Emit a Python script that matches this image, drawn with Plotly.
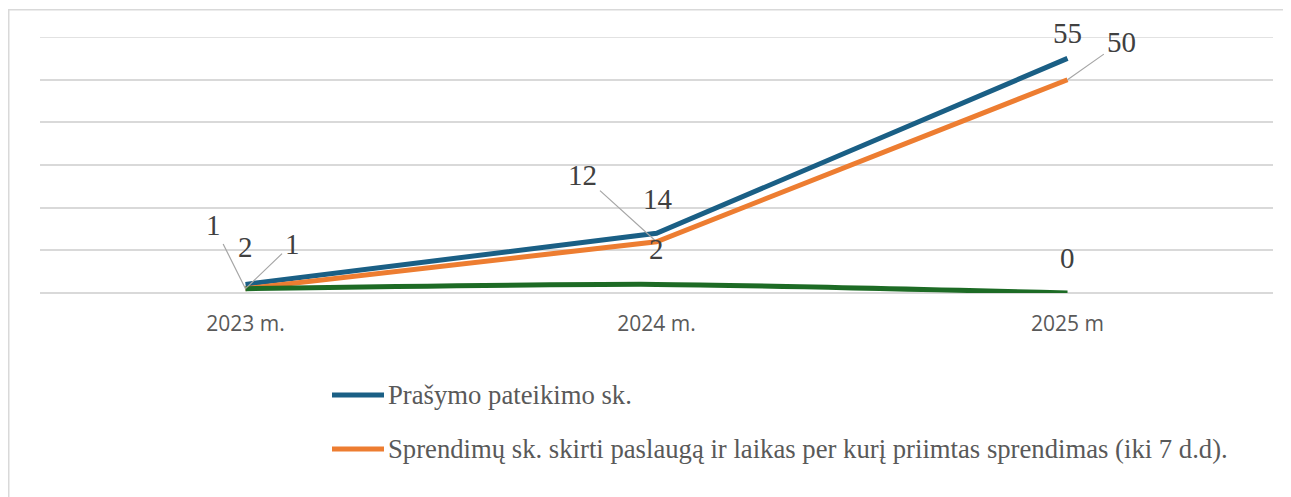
import plotly.graph_objects as go

categories = ["2023 m.", "2024 m.", "2025 m"]
series_names = [
    "Prašymo pateikimo sk.",
    "Sprendimų sk. skirti paslaugą ir laikas per kurį priimtas sprendimas (iki 7 d.d).",
    "Sprendimų sk. nepriimta",
]
blue_values = [2, 14, 55]
orange_values = [1, 12, 50]
green_values = [1, 2, 0]
y_max = 60

colors = ["#1a5f85", "#ed7d31", "#1d6b25"]
shapes_line = ["linear", "linear", "spline"]

# label offsets in pixels (dx, dy) and whether a leader line is drawn
label_offsets = [
    [(0, -37, False), (1, -34, False), (0, -25, False)],
    [(47, -45, True), (-74, -67, True), (54, -38, True)],
    [(-32, -64, True), (0, -35, False), (0, -35, False)],
]

all_values = [blue_values, orange_values, green_values]

OFF = 8  # page body margin
W, H = 1291 - OFF, 497 - OFF
L, R, T, B = 40 - OFF, 18, 37 - OFF, 497 - 293
pw = W - L - R
ph = H - T - B

def px_to_paper_x(px):
    return (px - OFF - L) / pw

def px_to_paper_y(py):
    return (H - B - (py - OFF)) / ph

fig = go.Figure()
for i, vals in enumerate(all_values):
    fig.add_trace(go.Scatter(
        x=list(range(len(categories))), y=vals, mode="lines",
        name=series_names[i],
        line=dict(color=colors[i], width=5, shape=shapes_line[i], smoothing=0.6),
        showlegend=False, hoverinfo="skip",
    ))

annotations = []
for i, vals in enumerate(all_values):
    for j, v in enumerate(vals):
        dx, dy, lead = label_offsets[i][j]
        annotations.append(dict(
            x=j, y=v, xref="x", yref="y", text=str(v),
            showarrow=True, ax=dx, ay=dy, axref="pixel", ayref="pixel",
            arrowhead=0, arrowwidth=1.2 if lead else 0.1,
            arrowcolor="#a6a6a6" if lead else "rgba(0,0,0,0)",
            standoff=0, startstandoff=2,
            font=dict(family="Liberation Serif", size=29, color="#404040"),
        ))

shapes = []
# outer chart border
shapes.append(dict(type="rect", xref="paper", yref="paper",
                   x0=px_to_paper_x(8.75), x1=px_to_paper_x(1330),
                   y0=px_to_paper_y(560), y1=px_to_paper_y(9.75),
                   line=dict(color="#d9d9d9", width=1.5), fillcolor="rgba(0,0,0,0)", layer="below"))
# top gridline (at axis maximum)
shapes.append(dict(type="line", xref="paper", yref="y", x0=0, x1=1, y0=y_max, y1=y_max,
                   line=dict(color="#d9d9d9", width=1.5), layer="below"))

# manual legend (first two entries visible)
legend_rows = [395, 449]
for k, py in enumerate(legend_rows):
    shapes.append(dict(type="line", xref="paper", yref="paper",
                       x0=px_to_paper_x(332), x1=px_to_paper_x(384),
                       y0=px_to_paper_y(py), y1=px_to_paper_y(py),
                       line=dict(color=colors[k], width=5)))
    annotations.append(dict(
        xref="paper", yref="paper", x=px_to_paper_x(386), y=px_to_paper_y(py),
        xanchor="left", yanchor="middle", showarrow=False, text=series_names[k],
        font=dict(family="Liberation Serif", size=26.7, color="#595959"),
    ))

fig.update_layout(
    width=W, height=H,
    margin=dict(l=L, r=R, t=T, b=B),
    paper_bgcolor="white", plot_bgcolor="white",
    showlegend=False,
    annotations=annotations, shapes=shapes,
    xaxis=dict(
        tickmode="array", tickvals=list(range(len(categories))), ticktext=categories,
        range=[-0.5, 2.5], showgrid=False, zeroline=False, showline=False,
        ticks="outside", ticklen=12, tickcolor="rgba(0,0,0,0)",
        tickfont=dict(family="Open Sans", size=21, color="#595959"),
    ),
    yaxis=dict(
        range=[-0.02, y_max + 0.02], dtick=10, tick0=0, showticklabels=False, showgrid=True,
        gridcolor="#d9d9d9", gridwidth=1.5, zeroline=True, zerolinecolor="#d9d9d9",
        zerolinewidth=1.5, showline=False,
    ),
)

fig.write_html("out.html")
